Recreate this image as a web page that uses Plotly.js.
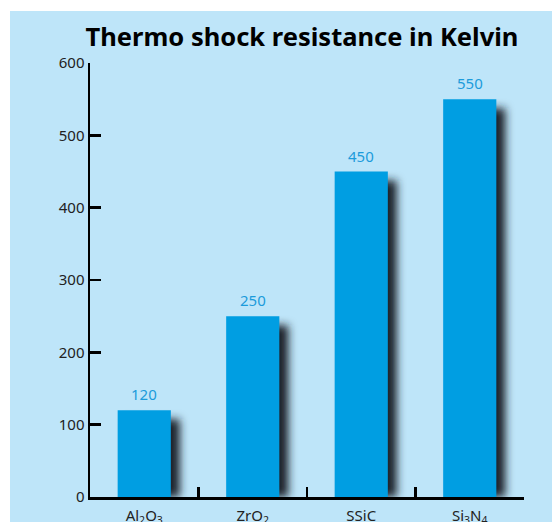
<!DOCTYPE html>
<html><head><meta charset="utf-8">
<script src="https://cdn.plot.ly/plotly-3.0.1.min.js"></script>
<style>html,body{margin:0;padding:0;background:#fff;}#chart{width:552px;height:522px;}</style>
</head><body><div id="chart"></div>
<script>
const categories = ['Al<sub>2</sub>O<sub>3</sub>', 'ZrO<sub>2</sub>', 'SSiC', 'Si<sub>3</sub>N<sub>4</sub>'];
const values = [120, 250, 450, 550];
const yTicks = [0, 100, 200, 300, 400, 500, 600];

const W = 552, H = 522;
const L = 90, R = 28, T = 63, B = 25;
const pw = W - L - R, ph = H - T - B;
const barWidth = 0.49;
const catPx = pw / categories.length;
const shadowDx = 9 / catPx;           // category units
const shadowDy = 9 * 600 / ph;        // value units

const shadow = {
  type: 'bar', x: categories, y: values.map(v => v - shadowDy),
  width: barWidth, offset: -barWidth / 2 + shadowDx,
  marker: {color: '#1a242c', line: {width: 0}},
  hoverinfo: 'skip', showlegend: false
};
const bars = {
  type: 'bar', x: categories, y: values,
  width: barWidth, offset: -barWidth / 2,
  marker: {color: '#009EE2', line: {width: 0}},
  showlegend: false
};

const px2x = p => (p - L) / pw;
const px2y = p => (H - B - p) / ph;

const layout = {
  width: W, height: H,
  margin: {l: L, r: R, t: T, b: B, pad: 0},
  paper_bgcolor: '#ffffff', plot_bgcolor: 'rgba(0,0,0,0)',
  barmode: 'overlay',
  font: {family: 'Noto Sans, sans-serif', color: '#222', size: 15},
  title: {text: '<b>Thermo shock resistance in Kelvin</b>', font: {family: 'Noto Sans, sans-serif', size: 25.5, color: '#000'},
          x: 302 / W, xanchor: 'center', y: 1 - 37 / H, yanchor: 'middle'},
  xaxis: {type: 'category', showline: true, linecolor: '#000', linewidth: 2.5,
          ticks: 'inside', tickson: 'boundaries', ticklen: 10, tickwidth: 2.5, tickcolor: '#000',
          showgrid: false, zeroline: false, fixedrange: true, ticklabelstandoff: 3,
          tickfont: {size: 15, color: '#222'}},
  yaxis: {range: [0, 600], tickvals: yTicks, showline: true, linecolor: '#000', linewidth: 2.5,
          ticks: 'inside', ticklen: 11, tickwidth: 2.5, tickcolor: '#000',
          showgrid: false, zeroline: false, fixedrange: true,
          tickfont: {size: 15, color: '#222'}},
  shapes: [{type: 'rect', xref: 'paper', yref: 'paper', layer: 'below',
            x0: px2x(10), x1: px2x(W + 5), y0: px2y(H + 5), y1: px2y(11),
            fillcolor: '#BEE5F9', line: {width: 0}}],
  annotations: categories.map((c, i) => ({
    x: c, y: values[i], xref: 'x', yref: 'y', text: String(values[i]),
    showarrow: false, yanchor: 'bottom', yshift: 4,
    font: {size: 15, color: '#1C9BDB', family: 'Noto Sans, sans-serif'}
  })),
  hovermode: false
};

Plotly.newPlot('chart', [shadow, bars], layout, {staticPlot: true, displayModeBar: false}).then(gd => {
  const ns = 'http://www.w3.org/2000/svg';
  const svg = gd.querySelector('svg.main-svg');
  let defs = svg.querySelector('defs');
  if (!defs) { defs = document.createElementNS(ns, 'defs'); svg.insertBefore(defs, svg.firstChild); }
  const f = document.createElementNS(ns, 'filter');
  f.setAttribute('id', 'barShadowBlur');
  f.setAttribute('x', '-60%'); f.setAttribute('y', '-20%');
  f.setAttribute('width', '220%'); f.setAttribute('height', '140%');
  const b = document.createElementNS(ns, 'feGaussianBlur');
  b.setAttribute('stdDeviation', '4.5');
  f.appendChild(b); defs.appendChild(f);
  const traces = gd.querySelectorAll('.barlayer .trace');
  if (traces.length) traces[0].setAttribute('filter', 'url(#barShadowBlur)');
});
</script></body></html>
